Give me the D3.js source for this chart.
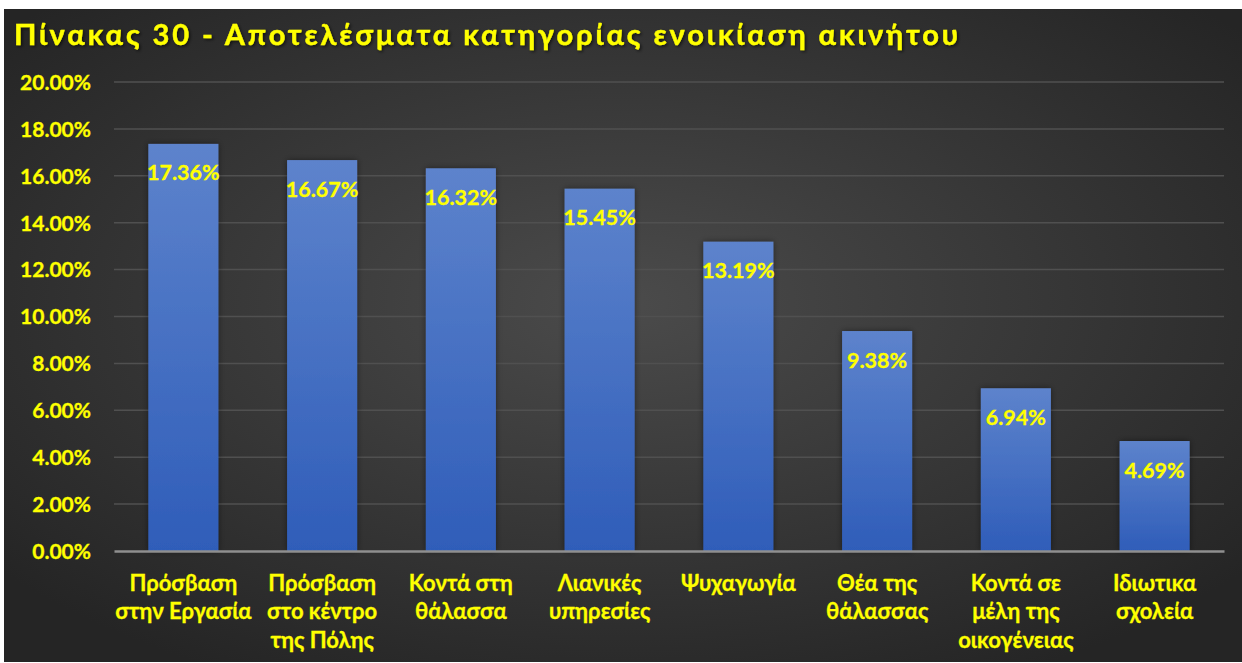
<!DOCTYPE html>
<html><head><meta charset="utf-8">
<script src="https://cdn.jsdelivr.net/npm/d3@7"></script>
<style>html,body{margin:0;padding:0;background:#fff;overflow:hidden}</style>
</head><body>
<script>
const titleText = "Πίνακας 30 - Αποτελέσματα κατηγορίας ενοικίαση ακινήτου";
const categories = [
  ["Πρόσβαση","στην Εργασία"],
  ["Πρόσβαση","στο κέντρο","της Πόλης"],
  ["Κοντά στη","θάλασσα"],
  ["Λιανικές","υπηρεσίες"],
  ["Ψυχαγωγία"],
  ["Θέα της","θάλασσας"],
  ["Κοντά σε","μέλη της","οικογένειας"],
  ["Ιδιωτικα","σχολεία"]
];
const values = [17.36, 16.67, 16.32, 15.45, 13.19, 9.38, 6.94, 4.69];
const yTicks = [0, 2, 4, 6, 8, 10, 12, 14, 16, 18, 20];

const W = 1242, H = 663;
const svg = d3.select("body").append("svg").attr("width", W).attr("height", H);
const defs = svg.append("defs");
const rg = defs.append("radialGradient").attr("id","bg").attr("cx","50%").attr("cy","45%").attr("r","65%");
rg.append("stop").attr("offset","0%").attr("stop-color","#4b4b4b");
rg.append("stop").attr("offset","100%").attr("stop-color","#252525");
const bg = defs.append("linearGradient").attr("id","bar").attr("x1",0).attr("y1",0).attr("x2",0).attr("y2",1);
bg.append("stop").attr("offset","0%").attr("stop-color","#5d83cc");
bg.append("stop").attr("offset","100%").attr("stop-color","#2f5db9");
const sh = defs.append("filter").attr("id","sh").attr("x","-20%").attr("y","-20%").attr("width","140%").attr("height","140%");
sh.append("feDropShadow").attr("dx",1.5).attr("dy",1.5).attr("stdDeviation",1.5).attr("flood-color","#000").attr("flood-opacity",0.6);
const bsh = defs.append("filter").attr("id","bsh").attr("x","-20%").attr("y","-20%").attr("width","140%").attr("height","140%");
bsh.append("feDropShadow").attr("dx",0).attr("dy",0).attr("stdDeviation",3).attr("flood-color","#000").attr("flood-opacity",0.45);

svg.append("rect").attr("x",4).attr("y",9).attr("width",W-4).attr("height",H-10).attr("fill","url(#bg)");

const font = "Lato, 'Liberation Sans', Arial, sans-serif";
const yellow = "#ffff00";

svg.append("text").attr("x",14).attr("y",45).attr("textLength",944).attr("lengthAdjust","spacing")
  .attr("font-family",font).attr("font-weight","bold").attr("font-size",29).attr("fill",yellow)
  .attr("stroke",yellow).attr("stroke-width",0.4)
  .attr("filter","url(#sh)").text(titleText);

const x0 = 114, x1 = 1224, yTop = 82, yBot = 551;
const x = d3.scaleBand().domain(d3.range(categories.length)).range([x0, x1]).paddingInner(0.495).paddingOuter(0.2475);
const y = d3.scaleLinear().domain([0, 20]).range([yBot, yTop]);

// gridlines
svg.append("g").selectAll("line").data(yTicks.filter(d => d > 0)).join("line")
  .attr("x1", x0).attr("x2", x1).attr("y1", d => y(d)).attr("y2", d => y(d))
  .attr("stroke","#505050").attr("stroke-width",1.5);

// y axis labels
const yAxis = d3.axisLeft(y).tickValues(yTicks).tickFormat(d => d.toFixed(2) + "%").tickSize(0).tickPadding(0);
const ya = svg.append("g").attr("transform", "translate(91,0)").call(yAxis);
ya.select(".domain").remove();
ya.selectAll("text").attr("font-family",font).attr("font-weight","bold").attr("font-size",21).attr("fill",yellow)
  .attr("stroke",yellow).attr("stroke-width",0.3).attr("dy","0.35em");

// bars
svg.append("g").selectAll("rect").data(values).join("rect")
  .attr("x",(d,i)=>x(i)).attr("width",x.bandwidth()).attr("y",d=>y(d)).attr("height",d=>yBot-y(d))
  .attr("fill","url(#bar)").attr("filter","url(#bsh)");

// axis line
const xAxis = d3.axisBottom(x).tickSize(0).tickFormat("");
const xa = svg.append("g").attr("transform",`translate(0,${yBot})`).call(xAxis);
xa.select(".domain").attr("stroke","#8f8f8f").attr("stroke-width",2.5);

// value labels
svg.append("g").selectAll("text").data(values).join("text")
  .attr("x",(d,i)=>x(i)+x.bandwidth()/2).attr("y",d=>y(d)+29).attr("dy","0.35em")
  .attr("text-anchor","middle").attr("font-family",font).attr("font-weight","bold").attr("font-size",21.5)
  .attr("fill",yellow).attr("stroke",yellow).attr("stroke-width",0.3)
  .text(d => d.toFixed(2) + "%");

// category labels
const cg = svg.append("g").selectAll("text").data(categories).join("text")
  .attr("text-anchor","middle").attr("font-family",font).attr("font-weight","bold").attr("font-size",22)
  .attr("fill",yellow).attr("stroke",yellow).attr("stroke-width",0.3);
cg.each(function(lines, i) {
  const t = d3.select(this);
  lines.forEach((ln, k) => {
    t.append("tspan").attr("x", x(i)+x.bandwidth()/2).attr("y", 583 + k*28.7).attr("dy","0.35em").text(ln);
  });
});
</script>
</body></html>
